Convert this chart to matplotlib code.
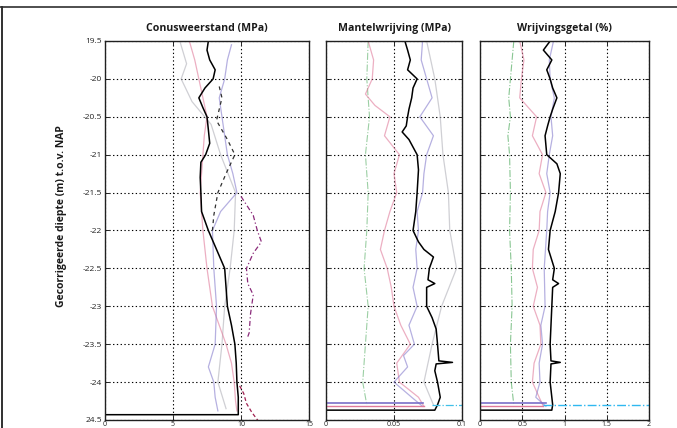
"""
Sondeergrafiek: conusweerstand, mantelwrijving en wrijvingsgetal
"""
import matplotlib
matplotlib.use('Agg')
import matplotlib.pyplot as plt
from matplotlib.lines import Line2D

# --- Conusweerstand (MPa) ---
qc_depth = [-19.5, -19.62, -19.75, -19.88, -20.0, -20.12, -20.25, -20.38, -20.5, -20.67,
            -20.85, -21.0, -21.1, -21.3, -21.5, -21.75, -22.0, -22.25, -22.5, -22.75,
            -23.0, -23.25, -23.5, -23.75, -24.0, -24.2, -24.38, -24.43, -24.43]
qc_main = [7.6, 7.5, 7.7, 8.1, 7.95, 7.35, 6.9, 7.2, 7.5, 7.6,
           7.7, 7.4, 7.05, 7.0, 7.05, 7.1, 7.6, 8.2, 8.8, 8.9,
           9.0, 9.3, 9.55, 9.65, 9.7, 9.8, 9.8, 9.8, 0.0]

qc_pink_depth = [-19.5, -19.75, -20.0, -20.25, -20.5, -20.75, -21.0, -21.5, -22.0, -22.5,
                 -23.0, -23.25, -23.5, -23.75, -24.0, -24.25, -24.38]
qc_pink = [6.2, 6.6, 6.9, 7.2, 7.5, 7.3, 7.2, 7.0, 7.2, 7.5,
           7.9, 8.4, 8.9, 9.3, 9.5, 9.6, 9.7]

qc_blue_depth = [-19.55, -19.75, -20.0, -20.25, -20.5, -20.75, -21.0, -21.25, -21.5, -21.75,
                 -22.0, -22.5, -23.0, -23.5, -23.8, -24.0, -24.2, -24.38]
qc_blue = [9.3, 9.0, 8.8, 8.4, 8.6, 8.8, 9.0, 9.4, 9.7, 8.5,
           7.9, 8.0, 8.2, 8.1, 7.6, 8.0, 8.1, 8.3]

qc_gray_depth = [-19.5, -19.8, -20.0, -20.3, -20.6, -21.0, -21.5, -22.0, -22.5, -23.0,
                 -23.5, -24.0, -24.35]
qc_gray = [5.5, 6.0, 5.6, 6.4, 7.8, 8.5, 9.6, 9.5, 9.2, 8.8, 8.6, 8.3, 8.9]

qc_dash_depth = [-20.1, -20.25, -20.55, -20.8, -21.0, -21.25, -21.5, -21.8, -22.0]
qc_dash = [8.4, 8.6, 8.2, 9.0, 9.55, 8.9, 8.3, 8.0, 7.9]

qc_mag_depth = [-21.55, -21.8, -22.0, -22.15, -22.3, -22.5, -22.7, -22.85, -23.1, -23.35, -23.4]
qc_mag = [10.0, 10.9, 11.2, 11.5, 10.9, 10.4, 10.5, 10.9, 10.7, 10.6, 10.5]
qc_mag2_depth = [-24.05, -24.15, -24.28, -24.4, -24.52]
qc_mag2 = [9.9, 10.2, 10.4, 10.8, 11.3]

# --- Mantelwrijving (MPa) ---
fs_depth = [-19.5, -19.62, -19.75, -19.88, -20.0, -20.12, -20.25, -20.4, -20.5, -20.62,
            -20.7, -20.8, -21.0, -21.2, -21.5, -21.75, -22.0, -22.15, -22.25, -22.35,
            -22.5, -22.65, -22.7, -22.75, -23.0, -23.15, -23.3, -23.5, -23.72, -23.74,
            -23.76, -23.85, -24.0, -24.2, -24.3, -24.37, -24.37]
fs_main = [0.058, 0.060, 0.062, 0.060, 0.067, 0.064, 0.063, 0.061, 0.060, 0.059,
           0.056, 0.061, 0.067, 0.068, 0.067, 0.066, 0.064, 0.068, 0.072, 0.079,
           0.076, 0.075, 0.080, 0.074, 0.074, 0.078, 0.081, 0.082, 0.083, 0.093,
           0.081, 0.080, 0.082, 0.084, 0.082, 0.080, 0.0]

fs_pink_depth = [-19.5, -19.75, -20.0, -20.2, -20.35, -20.5, -20.75, -21.0, -21.25, -21.5,
                 -21.75, -22.0, -22.25, -22.5, -22.75, -23.0, -23.25, -23.5, -23.75, -24.0,
                 -24.2, -24.32]
fs_pink = [0.031, 0.035, 0.034, 0.029, 0.036, 0.047, 0.043, 0.054, 0.050, 0.052,
           0.047, 0.043, 0.040, 0.045, 0.048, 0.050, 0.055, 0.062, 0.052, 0.054,
           0.068, 0.072]

fs_blue_depth = [-19.5, -19.75, -20.0, -20.25, -20.5, -20.75, -21.0, -21.25, -21.5, -21.75,
                 -22.0, -22.25, -22.5, -22.75, -23.0, -23.25, -23.5, -23.65, -23.8, -24.0,
                 -24.2, -24.32]
fs_blue = [0.071, 0.070, 0.074, 0.078, 0.069, 0.079, 0.074, 0.072, 0.071, 0.067,
           0.068, 0.066, 0.067, 0.064, 0.067, 0.061, 0.065, 0.057, 0.060, 0.050,
           0.063, 0.071]

fs_gray_depth = [-19.5, -20.0, -20.5, -21.0, -21.5, -22.0, -22.5, -23.0, -23.5, -24.0, -24.3]
fs_gray = [0.074, 0.080, 0.084, 0.086, 0.090, 0.091, 0.096, 0.085, 0.078, 0.072, 0.079]

fs_green_depth = [-19.5, -20.0, -20.5, -21.0, -21.5, -22.0, -22.5, -23.0, -23.5, -24.0, -24.3]
fs_green = [0.031, 0.030, 0.032, 0.029, 0.031, 0.030, 0.028, 0.031, 0.029, 0.027, 0.030]

# --- Wrijvingsgetal (%) ---
rf_depth = [-19.5, -19.62, -19.75, -19.88, -20.0, -20.12, -20.25, -20.4, -20.5, -20.62,
            -20.75, -21.0, -21.12, -21.25, -21.5, -21.75, -22.0, -22.25, -22.5, -22.65,
            -22.7, -22.75, -23.0, -23.25, -23.5, -23.72, -23.74, -23.76, -24.0, -24.2,
            -24.3, -24.37, -24.37]
rf_main = [0.83, 0.75, 0.85, 0.79, 0.83, 0.86, 0.91, 0.86, 0.83, 0.80,
           0.77, 0.79, 0.91, 0.95, 0.93, 0.89, 0.83, 0.81, 0.88, 0.86,
           0.93, 0.86, 0.85, 0.84, 0.83, 0.84, 0.95, 0.84, 0.83, 0.85,
           0.86, 0.85, 0.0]

rf_pink_depth = [-19.5, -19.75, -20.0, -20.25, -20.5, -20.75, -21.0, -21.25, -21.5, -21.75,
                 -22.0, -22.25, -22.5, -22.75, -23.0, -23.25, -23.5, -23.75, -24.0, -24.2,
                 -24.32]
rf_pink = [0.47, 0.52, 0.49, 0.47, 0.67, 0.62, 0.74, 0.70, 0.78, 0.71,
           0.70, 0.63, 0.62, 0.68, 0.63, 0.71, 0.72, 0.64, 0.62, 0.70, 0.75]

rf_blue_depth = [-19.5, -19.75, -20.0, -20.25, -20.5, -20.75, -21.0, -21.25, -21.5, -21.75,
                 -22.0, -22.5, -23.0, -23.25, -23.5, -23.75, -24.0, -24.2, -24.32]
rf_blue = [0.87, 0.82, 0.83, 0.88, 0.84, 0.86, 0.82, 0.79, 0.83, 0.80,
           0.79, 0.76, 0.77, 0.72, 0.74, 0.70, 0.71, 0.66, 0.78]

rf_green_depth = [-19.5, -19.75, -20.0, -20.25, -20.5, -20.75, -21.0, -21.5, -22.0, -22.5,
                  -23.0, -23.5, -24.0, -24.3]
rf_green = [0.40, 0.38, 0.36, 0.34, 0.36, 0.33, 0.35, 0.36, 0.35, 0.37,
            0.38, 0.36, 0.37, 0.40]

# assen
depth_ticks = [-19.5, -20, -20.5, -21, -21.5, -22, -22.5, -23, -23.5, -24, -24.5]
depth_labels = ['19.5', '-20', '-20.5', '-21', '-21.5', '-22', '-22.5', '-23', '-23.5', '-24', '24.5']
qc_ticks = [0, 5, 10, 15]
fs_ticks = [0, 0.05, 0.1]
rf_ticks = [0, 0.5, 1, 1.5, 2]
fs_tick_labels = ['0', '0.05', '0.1']
rf_tick_labels = ['0', '0.5', '1', '1.5', '2']

titles = ['Conusweerstand (MPa)', 'Mantelwrijving (MPa)', 'Wrijvingsgetal (%)']

plt.rcParams['font.family'] = ['Open Sans', 'DejaVu Sans']

W, H = 677, 428
fig = plt.figure(figsize=(W / 100, H / 100), dpi=100)
fig.patch.set_facecolor('white')

bottom = 1 - 420 / H
height = (420 - 41) / H
ax1 = fig.add_axes([105 / W, bottom, 204 / W, height])
ax2 = fig.add_axes([326 / W, bottom, 136 / W, height])
ax3 = fig.add_axes([480 / W, bottom, 169 / W, height])

pink = '#e07a9a'
blue = '#7a70c8'
gray = '#b0b0b8'
green = '#3aa04a'

# Conusweerstand
ax1.plot(qc_gray, qc_gray_depth, color=gray, lw=0.9, alpha=0.6)
ax1.plot(qc_pink, qc_pink_depth, color=pink, lw=0.9, alpha=0.6)
ax1.plot(qc_blue, qc_blue_depth, color=blue, lw=0.9, alpha=0.55)
ax1.plot(qc_dash, qc_dash_depth, color='#303030', lw=0.9, ls=(0, (3, 3)))
ax1.plot(qc_mag, qc_mag_depth, color='#8a2a7a', lw=0.9, ls=(0, (4, 2, 1, 2)))
ax1.plot(qc_mag2, qc_mag2_depth, color='#a02050', lw=0.9, ls=(0, (3, 2)))
ax1.plot(qc_main, qc_depth, color='black', lw=1.1)

# Mantelwrijving
ax2.plot(fs_green, fs_green_depth, color=green, lw=0.8, alpha=0.5, ls='-.')
ax2.plot(fs_gray, fs_gray_depth, color=gray, lw=0.9, alpha=0.6)
ax2.plot(fs_pink, fs_pink_depth, color=pink, lw=0.9, alpha=0.6)
ax2.plot(fs_blue, fs_blue_depth, color=blue, lw=0.9, alpha=0.55)
ax2.plot(fs_main, fs_depth, color='black', lw=1.1)
ax2.plot([0.0, fs_blue[-1]], [-24.28, -24.28], color=blue, lw=1.2)
ax2.plot([0.0, fs_pink[-1]], [-24.32, -24.32], color=pink, lw=1.0)
ax2.plot([0.078, 0.1], [-24.3, -24.3], color='#40c0e8', lw=0.9, ls='-.')

# Wrijvingsgetal
ax3.plot(rf_green, rf_green_depth, color=green, lw=0.8, alpha=0.6, ls='-.')
ax3.plot(rf_pink, rf_pink_depth, color=pink, lw=0.9, alpha=0.6)
ax3.plot(rf_blue, rf_blue_depth, color=blue, lw=0.9, alpha=0.55)
ax3.plot(rf_main, rf_depth, color='black', lw=1.1)
ax3.plot([0.0, rf_blue[-1]], [-24.28, -24.28], color=blue, lw=1.2)
ax3.plot([0.0, rf_pink[-1]], [-24.32, -24.32], color=pink, lw=1.0)
ax3.plot([0.75, 2.0], [-24.3, -24.3], color='#30b8f0', lw=1.0, ls='-.')

for ax, xt, xl, xmax, title in [
        (ax1, qc_ticks, [str(t) for t in qc_ticks], 15, titles[0]),
        (ax2, fs_ticks, fs_tick_labels, 0.1, titles[1]),
        (ax3, rf_ticks, rf_tick_labels, 2, titles[2])]:
    ax.set_xlim(0, xmax)
    ax.set_ylim(-24.5, -19.5)
    ax.set_xticks(xt)
    ax.set_xticklabels(xl)
    ax.set_yticks(depth_ticks)
    ax.grid(True, color='black', ls=(0, (1.2, 2.2)), lw=0.8)
    ax.tick_params(direction='in', length=3, width=0.7, labelsize=6,
                   top=True, right=True, pad=2, colors='#222222')
    ax.tick_params(axis='x', labelsize=5, pad=0.8)
    for spine in ax.spines.values():
        spine.set_linewidth(1.0)
        spine.set_color('#202020')
    ax.set_title(title, fontsize=7.6, fontweight='bold', pad=7, color='#1a1a1a')
    if ax is ax1:
        ax.set_yticklabels(depth_labels)
    else:
        ax.set_yticklabels([])

fig.text(62 / W, 1 - 216 / H, 'Gecorrigeerde diepte (m) t.o.v. NAP',
         rotation=90, ha='center', va='center', fontsize=7.5, fontweight='bold',
         color='#1a1a1a')

# kader om de figuur
fig.add_artist(Line2D([0, 1], [1 - 7 / H, 1 - 7 / H], transform=fig.transFigure,
                      color='#303030', lw=1.2))
fig.add_artist(Line2D([2 / W, 2 / W], [0, 1 - 7 / H], transform=fig.transFigure,
                      color='#303030', lw=1.4))

fig.savefig('out.png', dpi=100, facecolor='white')
